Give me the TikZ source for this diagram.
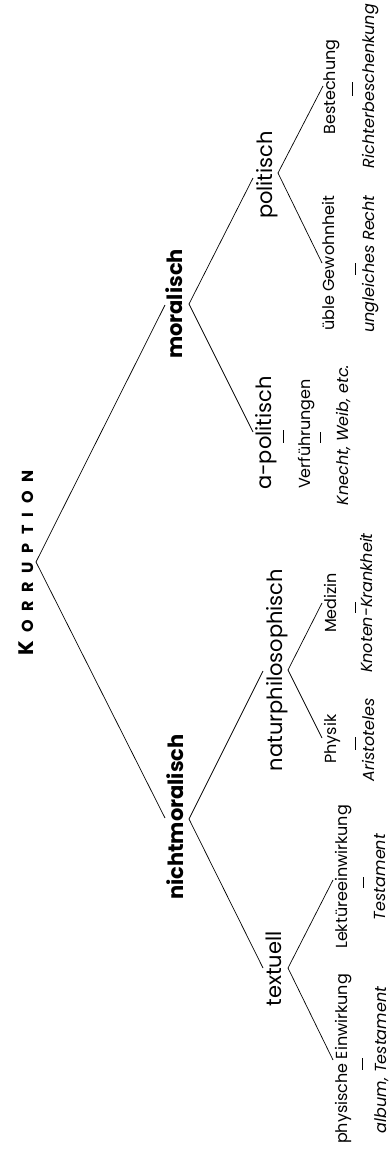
\documentclass[tikz,border=0pt]{standalone}
\usepackage{fontspec}
\setmainfont{Poppins}
\usetikzlibrary{calc}
\newcommand\korrtext{{\fontsize{21}{21}\selectfont K}\hspace{8.5pt}{\fontsize{16}{16}\selectfont O\hspace{8.5pt}R\hspace{8.5pt}R\hspace{8.5pt}U\hspace{8.5pt}P\hspace{8.5pt}T\hspace{8.5pt}I\hspace{8.5pt}O\hspace{8.5pt}N}}
\begin{document}
\begin{tikzpicture}[x=1pt,y=-1pt,
  lbl/.style={rotate=90, anchor=base, inner sep=0pt},
  root/.style={lbl, font=\bfseries},
  lone/.style={lbl, font=\fontsize{21}{21}\selectfont\bfseries},
  ltwo/.style={lbl, font=\fontsize{21}{21}\selectfont},
  lthree/.style={lbl, font=\fontsize{16}{16}\selectfont},
  lex/.style={lbl, font=\fontsize{16}{16}\selectfont\itshape},
  edge/.style={line width=0.7pt, black}]
\fill[white] (0,0) rectangle (390,1149);
\useasboundingbox (0,0) rectangle (390,1149);

% nodes
\node[root]   (korr)  at (33,563)  {\korrtext};
\node[lone]   (mor)   at (182,304) {moralisch};
\node[lone]   (nmor)  at (183,817) {nichtmoralisch};
\node[ltwo]   (pol)   at (272,175) {politisch};
\node[ltwo]   (apol)  at (271,433) {a-politisch};
\node[ltwo]   (nat)   at (282,670) {naturphilosophisch};
\node[ltwo]   (tex)   at (281,969) {textuell};
\node[lthree] (best)  at (335,87)  {Bestechung};
\node[lthree] (ueb)   at (334,263) {üble Gewohnheit};
\node[lthree] (verf)  at (310,434) {Verführungen};
\node[lthree] (med)   at (336,603) {Medizin};
\node[lthree] (phys)  at (336,739) {Physik};
\node[lthree] (lekt)  at (347,877) {Lektüreeinwirkung};
\node[lthree] (physE) at (347,1059) {physische Einwirkung};
\node[lex]    (richt) at (374,86)  {Richterbeschenkung};
\node[lex]    (ungl)  at (374,264) {ungleiches Recht};
\node[lex]    (knecht) at (348,435) {Knecht, Weib, etc.};
\node[lex]    (knot)  at (372,603) {Knoten-Krankheit};
\node[lex]    (arist) at (374,740) {Aristoteles};
\node[lex]    (test)  at (385,877) {Testament};
\node[lex]    (album) at (386,1060) {album, Testament};

% branch points
\coordinate (korrA) at ($(korr.base)+(3,-1)$);
\coordinate (morA)  at ($(mor.base)+(7,0)$);
\coordinate (nmorA) at ($(nmor.base)+(6,2)$);
\coordinate (polA)  at ($(pol.base)+(6,-2)$);
\coordinate (natA)  at ($(nat.base)+(6,0)$);
\coordinate (texA)  at ($(tex.base)+(7,-1)$);

% connectors
\draw[edge] ($(mor.base)+(-17,1)$) -- (korrA) -- ($(nmor.base)+(-18,1)$);
\draw[edge] ($(pol.base)+(-19,3)$) -- (morA) -- ($(apol.base)+(-18,-1)$);
\draw[edge] ($(nat.base)+(-19,1)$) -- (nmorA) -- ($(tex.base)+(-18,-1)$);
\draw[edge] ($(best.base)+(-12,-1)$) -- (polA) -- ($(ueb.base)+(-12,0)$);
\draw[edge] ($(med.base)+(-14,0)$) -- (natA) -- ($(phys.base)+(-14,-1)$);
\draw[edge] ($(lekt.base)+(-14,3)$) -- (texA) -- ($(physE.base)+(-14,1)$);

% short ticks
\draw[edge] ($(best.base)+(17,-5)$) -- ++(0,14);
\draw[edge] ($(ueb.base)+(21,0)$) -- ++(0,12);
\draw[edge] ($(apol.base)+(12,-3)$) -- ++(0,13);
\draw[edge] ($(verf.base)+(10,-2)$) -- ++(0,11);
\draw[edge] ($(med.base)+(19,-1)$) -- ++(0,11);
\draw[edge] ($(phys.base)+(19,-2)$) -- ++(0,13);
\draw[edge] ($(lekt.base)+(16,0)$) -- ++(0,11);
\draw[edge] ($(physE.base)+(15,-1)$) -- ++(0,12);
\end{tikzpicture}
\end{document}
